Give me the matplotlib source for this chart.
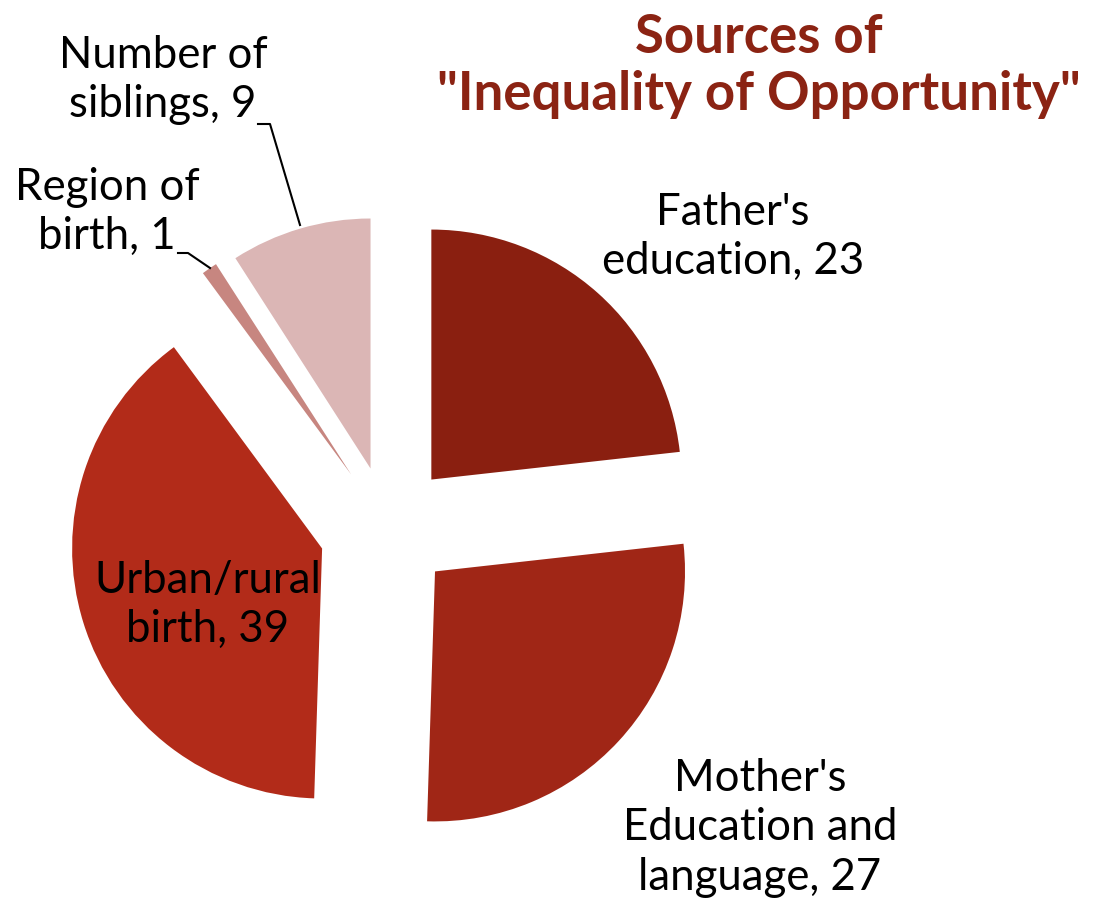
import matplotlib
matplotlib.use("Agg")
import matplotlib.pyplot as plt

categories = ["Father's\neducation", "Mother's\nEducation and\nlanguage", "Urban/rural\nbirth", "Region of\nbirth", "Number of\nsiblings"]
values = [23, 27, 39, 1, 9]
colors = ["#8A1F10", "#A02616", "#B22B19", "#C78680", "#DBB6B5"]
explode = [65, 64, 69, 65, 62]
title = "Sources of\n\"Inequality of Opportunity\""

W, H = 1094, 910
fig = plt.figure(figsize=(W / 100, H / 100), dpi=100)
ax = fig.add_axes([0, 0, 1, 1])

ax.pie(values, colors=colors, explode=explode, startangle=90, counterclock=False,
       center=(388, H - 528), radius=250, wedgeprops=dict(linewidth=0))
ax.set_xlim(0, W)
ax.set_ylim(0, H)
ax.set_aspect("equal")
ax.axis("off")

font = "Lato"
fs = 31.5
labels = [f"{c}, {v}" for c, v in zip(categories, values)]
pos = [(733, H - 237), (760, H - 828), (208, H - 605), (107, H - 212), (163, H - 80)]
for lab, (x, y) in zip(labels, pos):
    ax.text(x, y, lab, ha="center", va="center", fontsize=fs, family=font,
            color="black", linespacing=1.25)

# leader lines
ax.plot([258, 270, 300], [H - 124, H - 124, H - 225], color="black", lw=1.5)
ax.plot([178, 188, 210], [H - 253, H - 253, H - 268], color="black", lw=1.5)

ax.text(759, H - 66, title, ha="center", va="center", fontsize=38, family=font,
        fontweight="bold", color="#8B2313", linespacing=1.2)

fig.savefig("out.png", dpi=100)
